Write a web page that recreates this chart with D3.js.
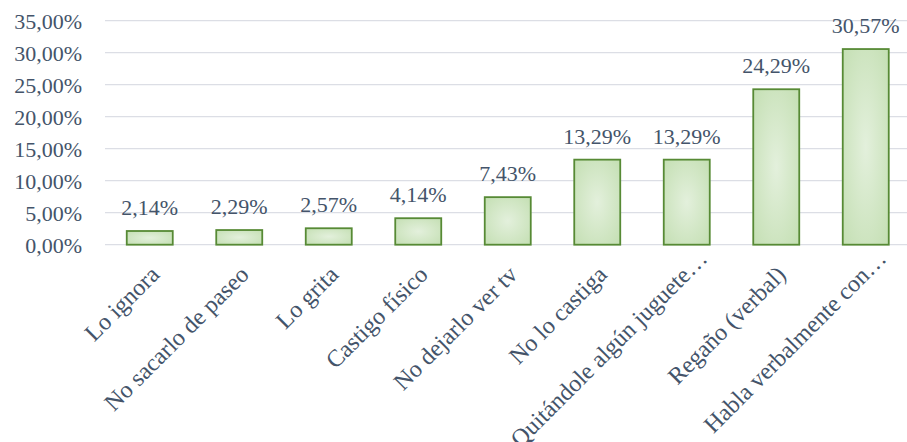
<!DOCTYPE html>
<html>
<head>
<meta charset="utf-8">
<script src="https://cdn.jsdelivr.net/npm/d3@7"></script>
<style>
  body { margin: 0; background: #fff; }
  svg text { font-family: "Liberation Serif", "Times New Roman", serif; fill: #44546A; }
</style>
</head>
<body>
<svg id="chart" width="907" height="442"></svg>
<script>
// Data
const categories = ['Lo ignora', 'No sacarlo de paseo', 'Lo grita', 'Castigo físico', 'No dejarlo ver tv',
  'No lo castiga', 'Quitándole algún juguete…', 'Regaño (verbal)', 'Habla verbalmente con…'];
const values = [2.14, 2.29, 2.57, 4.14, 7.43, 13.29, 13.29, 24.29, 30.57];
const yTicks = [0, 5, 10, 15, 20, 25, 30, 35];

const fmt = function(v) { return v.toFixed(2).replace('.', ',') + '%'; };

var svg = d3.select('#chart');

var x = d3.scaleBand().domain(categories).range([105, 910.5]).paddingInner(0.486).paddingOuter(0.243);
var y = d3.scaleLinear().domain([0, 35]).range([244.7, 20.7]);

// gradient for the bars
var grad = svg.append('defs').append('radialGradient')
  .attr('id', 'barFill').attr('cx', '50%').attr('cy', '50%').attr('r', '70%');
grad.append('stop').attr('offset', '0%').attr('stop-color', '#E3F0DC');
grad.append('stop').attr('offset', '100%').attr('stop-color', '#C4DFB3');

// gridlines
svg.append('g')
  .selectAll('line')
  .data(yTicks)
  .enter()
  .append('line')
  .attr('x1', 105).attr('x2', 907)
  .attr('y1', function(d) { return y(d); })
  .attr('y2', function(d) { return y(d); })
  .attr('stroke', '#DCDEE5')
  .attr('stroke-width', 1.3);

// y axis labels
var yAxis = svg.append('g')
  .attr('transform', 'translate(82,0)')
  .call(d3.axisLeft(y).tickValues(yTicks).tickSize(0).tickPadding(0).tickFormat(fmt));
yAxis.select('.domain').remove();
yAxis.selectAll('text').attr('font-size', '22px').attr('dy', '0.35em');

// bars
svg.selectAll('.bar')
  .data(values)
  .enter()
  .append('rect')
  .attr('class', 'bar')
  .attr('x', function(d, i) { return x(categories[i]); })
  .attr('y', function(d) { return y(d); })
  .attr('width', x.bandwidth())
  .attr('height', function(d) { return y(0) - y(d); })
  .attr('fill', 'url(#barFill)')
  .attr('stroke', '#578A35')
  .attr('stroke-width', 1.8);

// value labels
svg.selectAll('.val')
  .data(values)
  .enter()
  .append('text')
  .attr('class', 'val')
  .attr('x', function(d, i) { return x(categories[i]) + x.bandwidth() / 2; })
  .attr('y', function(d) { return y(d) - 16; })
  .attr('text-anchor', 'middle')
  .attr('font-size', '22px')
  .text(fmt);

// category labels (truncated ones sit a bit higher, like the original)
svg.selectAll('.cat')
  .data(categories)
  .enter()
  .append('text')
  .attr('class', 'cat')
  .attr('text-anchor', 'end')
  .attr('font-size', '24px')
  .attr('transform', function(d) {
    var cut = d.slice(-1) == '…';
    var cx = x(d) + x.bandwidth() / 2 + (cut ? 22 : 11);
    return 'translate(' + cx + ',' + (cut ? 260 : 276) + ') rotate(-45)';
  })
  .text(function(d) { return d; });
</script>
</body>
</html>
